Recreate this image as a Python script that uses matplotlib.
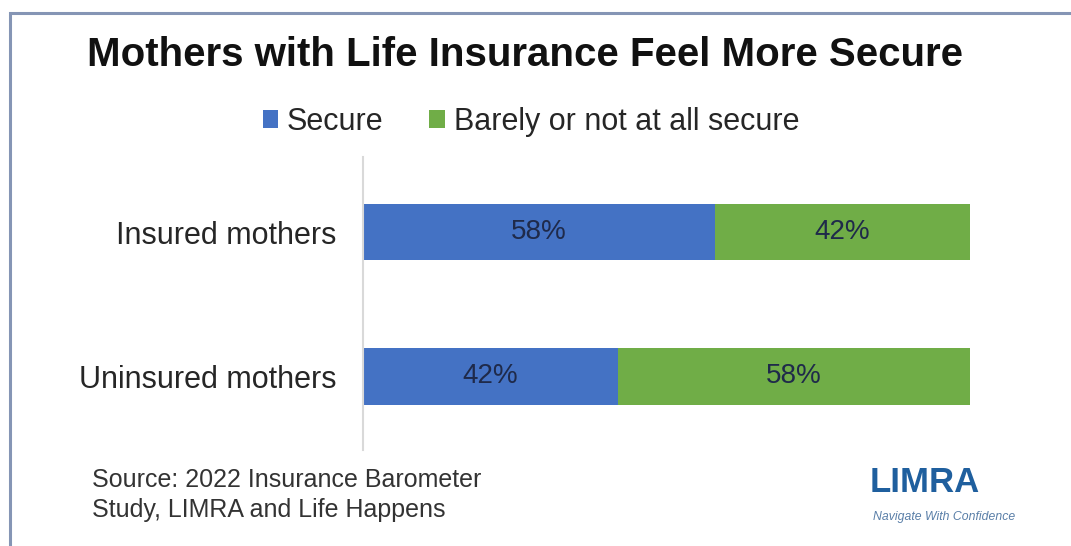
import matplotlib
matplotlib.use("Agg")
import matplotlib.pyplot as plt
from matplotlib.patches import Rectangle

categories = ["Uninsured mothers", "Insured mothers"]
secure = [42, 58]
not_secure = [58, 42]
series_names = ["Secure", "Barely or not at all secure"]

BLUE = "#4472C4"
GREEN = "#70AD47"
LABEL_COLOR = "#1F2A4A"

plt.rcParams["font.family"] = ["Liberation Sans", "DejaVu Sans"]

fig = plt.figure(figsize=(10.71, 5.46), dpi=100)
fig.patch.set_facecolor("white")

# outer frame (cropped at right/bottom like the screenshot)
fig.patches.append(Rectangle((10 / 1071, -0.05), 1.1, (546 - 13) / 546 + 0.05,
                             transform=fig.transFigure, fill=False,
                             edgecolor="#8595B5", linewidth=2.2))

ax = fig.add_axes([363 / 1071, (546 - 450) / 546, 607 / 1071, 293 / 546])
y = range(len(categories))
h = 0.39
b1 = ax.barh(y, secure, height=h, color=BLUE, label=series_names[0])
b2 = ax.barh(y, not_secure, left=secure, height=h, color=GREEN, label=series_names[1])

for bars, vals, lefts in [(b1, secure, [0, 0]), (b2, not_secure, secure)]:
    for bar, v, l in zip(bars, vals, lefts):
        ax.text(l + v / 2, bar.get_y() + bar.get_height() / 2, f"{v}%",
                ha="center", va="center", fontsize=20, color=LABEL_COLOR)

ax.set_xlim(0, 100)
ax.set_ylim(-0.51, 1.52)
ax.set_yticks(list(y))
ax.set_yticklabels(categories, fontsize=22, color="#262626")
ax.tick_params(axis="y", length=0, pad=19)
ax.set_xticks([])
for s in ["top", "right", "bottom"]:
    ax.spines[s].set_visible(False)
ax.spines["left"].set_color("#D9D9D9")
ax.spines["left"].set_linewidth(1.5)

fig.text(525 / 1071, 1 - 55 / 546, "Mothers with Life Insurance Feel More Secure",
         ha="center", va="center", fontsize=29, fontweight="bold", color="#111111")

leg = fig.legend(handles=[b1, b2], labels=series_names, loc="center",
                 bbox_to_anchor=(531 / 1071, 1 - 122 / 546), ncol=2, frameon=False,
                 fontsize=22, handlelength=0.5, handleheight=0.5,
                 handletextpad=0.3, columnspacing=1.5)
for t in leg.get_texts():
    t.set_color("#262626")

fig.text(92 / 1071, 1 - 480 / 546, "Source: 2022 Insurance Barometer",
         ha="left", va="center", fontsize=18, color="#333333")
fig.text(92 / 1071, 1 - 510 / 546, "Study, LIMRA and Life Happens",
         ha="left", va="center", fontsize=18, color="#333333")

# LIMRA logo as text
fig.text(925 / 1071, 1 - 483 / 546, "LIMRA", ha="center", va="center",
         fontsize=25, fontweight="bold", color="#1F5F9E")
fig.text(944 / 1071, 1 - 517 / 546, "Navigate With Confidence", ha="center",
         va="center", fontsize=8.8, style="italic", color="#5A7FA8")

fig.savefig("out.png", dpi=100, facecolor="white")
